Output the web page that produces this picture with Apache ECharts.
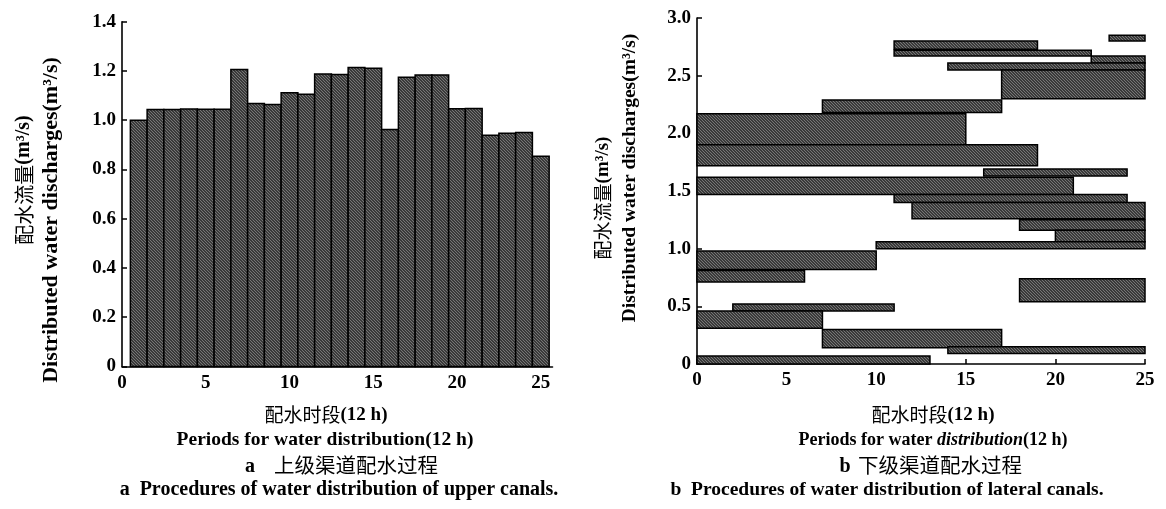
<!DOCTYPE html>
<html><head><meta charset="utf-8">
<script src="https://cdn.jsdelivr.net/npm/echarts@6/dist/echarts.min.js"></script>
<style>html,body{margin:0;padding:0;background:#fff}#c{width:1166px;height:509px}</style>
</head><body><div id="c"></div>
<script>
// ---- data ----
const upperPeriods = [1,2,3,4,5,6,7,8,9,10,11,12,13,14,15,16,17,18,19,20,21,22,23,24,25];
const upperFlows = [1.000,1.043,1.043,1.046,1.045,1.045,1.206,1.068,1.064,1.112,1.105,1.188,1.186,1.214,1.211,0.962,1.174,1.184,1.184,1.047,1.048,0.939,0.947,0.950,0.854];

const lateralStart = [23,11,11,22,14,17, 7, 0, 0,16, 0,11,12,18,20,10, 0, 0,18, 2, 0, 7,14, 0];
const lateralEnd   = [25,19,22,25,25,25,17,15,19,24,21,24,25,25,25,25,10, 6,25,11, 7,17,25,13];
const lateralLow   = [2.80,2.73,2.67,2.61,2.55,2.30,2.18,1.90,1.72,1.63,1.47,1.40,1.26,1.16,1.06,1.00,0.82,0.71,0.54,0.46,0.31,0.14,0.09,0.00];
const lateralHigh  = [2.85,2.80,2.72,2.67,2.61,2.55,2.29,2.17,1.90,1.69,1.62,1.47,1.40,1.25,1.16,1.06,0.98,0.81,0.74,0.52,0.46,0.30,0.15,0.07];

const xTicks = [0,5,10,15,20,25];
const upperYTicks = [0,0.2,0.4,0.6,0.8,1.0,1.2,1.4];
const lateralYTicks = [0,0.5,1.0,1.5,2.0,2.5,3.0];

// ---- chart ----
const SERIF = '"Liberation Serif",serif';
const CJK = '"Noto Sans CJK SC","Liberation Serif",sans-serif';

// stippled grey fill texture (deterministic)
const pc = document.createElement('canvas');
pc.width = 6; pc.height = 6;
const pctx = pc.getContext('2d');
pctx.fillStyle = '#3a3a3a'; pctx.fillRect(0,0,6,6);
pctx.fillStyle = '#767676';
for (let y=0; y<6; y++) for (let x=0; x<6; x++) if ((x + 2*y) % 3 === 0) pctx.fillRect(x,y,1,1);
const FILL = {image: pc, repeat: 'repeat'};

const chart = echarts.init(document.getElementById('c'), null, {renderer:'canvas'});

const upperData = upperPeriods.map((p,i)=>[p, upperFlows[i]]);
const lateralData = lateralStart.map((s,i)=>[s, lateralEnd[i], lateralLow[i], lateralHigh[i]]);

const fmt = v => v === 0 ? '0' : v.toFixed(1);
const axisLineStyle = {lineStyle:{color:'#000', width:1.6}};
const labelStyle = {color:'#000', fontFamily:SERIF, fontSize:19, fontWeight:'bold'};

function txt(x, y, text, size, opts){
  return Object.assign({type:'text', x:x, y:y, style:{text:text, fontFamily:SERIF, fontSize:size, fontWeight:'bold', fill:'#000', align:'center', verticalAlign:'middle'}}, opts||{});
}
function cjk(x, y, text, size, opts){
  return Object.assign({type:'text', x:x, y:y, style:{text:text, fontFamily:CJK, fontSize:size, fontWeight:'normal', fill:'#000', align:'center', verticalAlign:'middle'}}, opts||{});
}
// mixed CJK (regular) + latin (bold serif)
function mixed(x, y, text, size, opts){
  return Object.assign({type:'text', x:x, y:y, style:{text:text, align:'center', verticalAlign:'middle',
    rich:{c:{fontFamily:CJK, fontSize:size, fontWeight:'normal', fill:'#000'},
          n:{fontFamily:SERIF, fontSize:size, fontWeight:'bold', fill:'#000'},
          i:{fontFamily:SERIF, fontSize:size, fontWeight:'bold', fontStyle:'italic', fill:'#000'}}}}, opts||{});
}

chart.setOption({
  animation:false,
  backgroundColor:'#fff',
  grid:[
    {left:122, top:21.7, width:430.5, height:344.8},
    {left:697, top:18, width:448, height:346}
  ],
  xAxis:[
    {gridIndex:0, type:'value', min:0, max:25.7, interval:5,
     axisLine:axisLineStyle, splitLine:{show:false},
     axisTick:{show:false, customValues:xTicks},
     axisLabel:Object.assign({customValues:xTicks, margin:7, formatter:v=>String(v)}, labelStyle)},
    {gridIndex:1, type:'value', min:0, max:25, interval:5,
     axisLine:axisLineStyle, splitLine:{show:false},
     axisTick:{inside:true, length:5, lineStyle:{color:'#000', width:1.5}},
     axisLabel:Object.assign({margin:7, formatter:v=>String(v)}, labelStyle)}
  ],
  yAxis:[
    {gridIndex:0, type:'value', min:0, max:1.4, interval:0.2,
     axisLine:Object.assign({show:true}, axisLineStyle), splitLine:{show:false},
     axisTick:{show:true, inside:true, length:5, lineStyle:{color:'#000', width:1.5}},
     axisLabel:Object.assign({margin:6, formatter:fmt}, labelStyle)},
    {gridIndex:1, type:'value', min:0, max:3, interval:0.5,
     axisLine:Object.assign({show:true}, axisLineStyle), splitLine:{show:false},
     axisTick:{show:true, inside:true, length:5, lineStyle:{color:'#000', width:1.5}},
     axisLabel:Object.assign({margin:6, formatter:fmt}, labelStyle)}
  ],
  series:[
    {type:'custom', xAxisIndex:0, yAxisIndex:0, data:upperData, encode:{x:0, y:1},
     renderItem:function(params, api){
       const top = api.coord([api.value(0), api.value(1)]);
       const base = api.coord([api.value(0), 0]);
       const w = api.size([1,0])[0];
       return {type:'rect', shape:{x:top[0]-w/2, y:top[1], width:w, height:base[1]-top[1]},
               style:{fill:FILL, stroke:'#000', lineWidth:1.5}};
     }},
    {type:'custom', xAxisIndex:1, yAxisIndex:1, data:lateralData, encode:{x:[0,1], y:[2,3]},
     renderItem:function(params, api){
       const p0 = api.coord([api.value(0), api.value(3)]);
       const p1 = api.coord([api.value(1), api.value(2)]);
       return {type:'rect', shape:{x:p0[0], y:p0[1], width:p1[0]-p0[0], height:p1[1]-p0[1]},
               style:{fill:FILL, stroke:'#000', lineWidth:1.5}};
     }}
  ],
  graphic:[
    mixed(24, 180, '{c|配水流量}{n|(m³/s)}', 20, {rotation:Math.PI/2}),
    txt(51, 220, 'Distributed water discharges(m³/s)', 22, {rotation:Math.PI/2}),
    mixed(603, 198, '{c|配水流量}{n|(m³/s)}', 19, {rotation:Math.PI/2}),
    txt(630, 178, 'Distributed water discharges(m³/s)', 19.5, {rotation:Math.PI/2}),

    mixed(326, 415, '{c|配水时段}{n|(12 h)}', 19),
    txt(325, 440, 'Periods for water distribution(12 h)', 19.5),
    txt(250, 467, 'a', 20),
    cjk(356, 465, '上级渠道配水过程', 20.5),
    txt(339, 490, 'a  Procedures of water distribution of upper canals.', 20),

    mixed(933, 415, '{c|配水时段}{n|(12 h)}', 19),
    mixed(933, 440, '{n|Periods for water }{i|distribution}{n|(12 h)}', 18),
    txt(845, 467, 'b', 20),
    cjk(940, 465, '下级渠道配水过程', 20.5),
    txt(887, 490, 'b  Procedures of water distribution of lateral canals.', 19.5)
  ]
});
</script>
</body></html>
